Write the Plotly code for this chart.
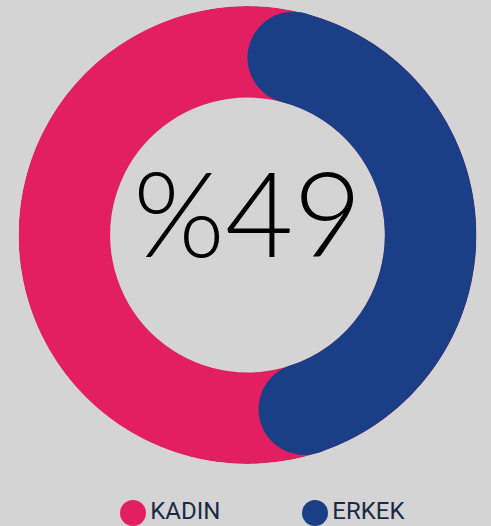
import math
import plotly.graph_objects as go

# ---- data ----
categories = ["KADIN", "ERKEK"]
values = [51, 49]          # percent
colors = ["#E21F61", "#1B3F87"]
center_label = "%49"

W, H = 491, 526
BG = "#D4D4D4"
HOLE = 0.6                 # inner radius / outer radius
BAND = 1 - HOLE
MID = HOLE + BAND / 2

total = sum(values)
erkek_angle = values[1] / total * 360.0
cap = math.degrees(math.asin((BAND / 2) / MID))   # angular size of round cap

# polar domain in pixels
cx, cy, R = 247.5, 235.0, 229.0
dom_x = [(cx - R) / W, (cx + R) / W]
dom_y = [(H - (cy + R)) / H, (H - (cy - R)) / H]
band_px = BAND * R

fig = go.Figure()

# full ring (KADIN colour underneath)
fig.add_trace(go.Barpolar(
    r=[BAND], base=[HOLE], theta=[180], width=[359.999],
    marker=dict(color=colors[0], line=dict(width=0)),
    showlegend=False, hoverinfo="skip"))

# ERKEK arc body (shortened by caps)
start, end = 0.0, erkek_angle
fig.add_trace(go.Barpolar(
    r=[BAND], base=[HOLE],
    theta=[(start + end) / 2], width=[(end - start) - 2 * cap],
    marker=dict(color=colors[1], line=dict(width=0)),
    showlegend=False, hoverinfo="skip"))

# round caps
fig.add_trace(go.Scatterpolar(
    r=[MID, MID], theta=[start + cap, end - cap], mode="markers",
    marker=dict(size=band_px, color=colors[1], line=dict(width=0)),
    showlegend=False, hoverinfo="skip"))

# legend drawn as a scatter row
fig.add_trace(go.Scatter(
    x=list(range(len(categories))), y=[0] * len(categories),
    mode="markers+text", text=categories, textposition="middle right",
    marker=dict(size=26, color=colors, line=dict(width=0)),
    textfont=dict(family="Roboto", size=24, color="#1B2A48"),
    showlegend=False, hoverinfo="skip", cliponaxis=False))

gap = 182.0
x0 = 133.0
fig.update_layout(
    width=W, height=H, margin=dict(l=0, r=0, t=0, b=0),
    paper_bgcolor=BG, plot_bgcolor=BG,
    polar=dict(
        domain=dict(x=dom_x, y=dom_y), bgcolor="rgba(0,0,0,0)",
        bargap=0,
        radialaxis=dict(visible=False, range=[0, 1]),
        angularaxis=dict(visible=False, rotation=90, direction="clockwise"),
    ),
    xaxis=dict(domain=[0, 1], range=[-x0 / gap, (W - x0) / gap], visible=False, fixedrange=True),
    yaxis=dict(domain=[0, 26 / H], range=[-1, 1], visible=False, fixedrange=True),
    showlegend=False,
    annotations=[dict(
        text=center_label, x=cx / W, y=(H - cy + 24) / H, xref="paper", yref="paper",
        showarrow=False, xanchor="center", yanchor="middle",
        font=dict(family="Lato", size=118, color="#000000", weight=300))],
)

fig.write_html(
    "out.html",
    config={"displayModeBar": False},
    post_script="document.body.style.margin='0';document.body.style.background='%s';" % BG,
)
